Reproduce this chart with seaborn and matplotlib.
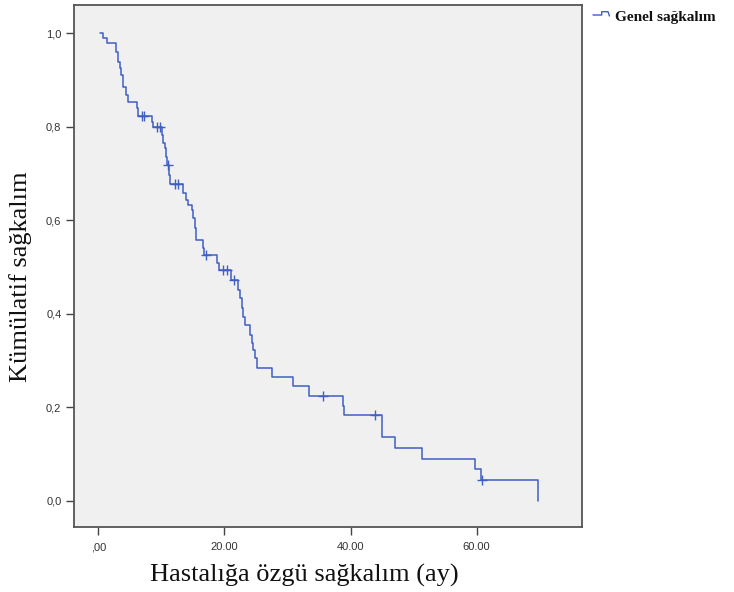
import numpy as np
import pandas as pd
import matplotlib
matplotlib.use("Agg")
import matplotlib.pyplot as plt
from matplotlib.lines import Line2D
import seaborn as sns

# Kaplan-Meier step points: time (months) at which the curve drops, and survival after the drop
step_times = [0.3, 0.82, 1.46, 2.8, 3.12, 3.44, 3.6, 3.9, 4.4, 4.75, 6.09, 6.34,
              8.46, 8.72, 10.05, 10.3, 10.57, 10.73, 10.97, 11.28, 11.44,
              13.42, 13.9, 14.26, 14.8, 15.06, 15.33, 15.48, 16.55, 16.83,
              18.9, 19.18, 21.0, 22.14, 22.46, 22.72, 22.98, 23.25,
              24.12, 24.31, 24.56, 24.83, 25.1, 27.48, 30.9, 33.44,
              38.73, 38.94, 44.91, 47.02, 51.35, 59.7, 60.76, 69.68]
survival = [1.0, 0.990, 0.979, 0.960, 0.939, 0.926, 0.911, 0.886, 0.868, 0.854, 0.840, 0.822,
            0.811, 0.799, 0.782, 0.765, 0.754, 0.736, 0.718, 0.697, 0.677,
            0.658, 0.643, 0.633, 0.622, 0.604, 0.583, 0.558, 0.540, 0.526,
            0.508, 0.494, 0.472, 0.451, 0.433, 0.412, 0.394, 0.376,
            0.355, 0.337, 0.323, 0.305, 0.283, 0.264, 0.245, 0.224,
            0.202, 0.184, 0.1365, 0.112, 0.089, 0.067, 0.044, 0.0]

# Censored observations (months)
censor_times = [6.88, 7.3, 9.25, 9.78, 11.1, 12.2, 12.7, 17.07, 19.8, 20.4, 21.5,
                35.66, 43.85, 60.85]

x_ticks = [0, 20, 40, 60]
x_tick_labels = [",00", "20.00", "40.00", "60.00"]
y_ticks = [0.0, 0.2, 0.4, 0.6, 0.8, 1.0]
y_tick_labels = ["0,0", "0,2", "0,4", "0,6", "0,8", "1,0"]

line_color = "#3f5fc4"

sns.set_style("white")
plt.rcParams["font.family"] = ["Liberation Sans", "DejaVu Sans"]

curve = pd.DataFrame({"time": step_times, "survival": survival})
# survival level at each censored time, read from the step function
idx = np.searchsorted(np.array(step_times), np.array(censor_times), side="right") - 1
censored = pd.DataFrame({"time": censor_times,
                         "survival": np.array(survival)[idx]})

fig = plt.figure(figsize=(7.34, 5.92), dpi=100)
fig.patch.set_facecolor("white")
ax = fig.add_axes([74 / 734, 1 - 527 / 592, 508 / 734, 522 / 592])
ax.set_facecolor("#f0f0f0")

sns.lineplot(data=curve, x="time", y="survival", ax=ax, color=line_color,
             linewidth=1.1, drawstyle="steps-post", estimator=None, sort=False)
sns.scatterplot(data=censored, x="time", y="survival", ax=ax, marker="+",
                s=45, color=line_color, linewidth=1.0, zorder=3)

ax.set_xlim(-3.85, 76.7)
ax.set_ylim(-0.0563, 1.0605)
ax.set_xticks(x_ticks)
ax.set_xticklabels(x_tick_labels)
ax.set_yticks(y_ticks)
ax.set_yticklabels(y_tick_labels)
ax.tick_params(axis="both", direction="out", length=6, width=1.0, color="#444444",
               labelsize=8, labelcolor="#333333", left=True, bottom=True, pad=3)
ax.tick_params(axis="x", pad=5)

for side in ["left", "right", "top", "bottom"]:
    ax.spines[side].set_visible(True)
    ax.spines[side].set_color("#555555")
    ax.spines[side].set_linewidth(1.3)

ax.set_xlabel("Hastalığa özgü sağkalım (ay)", family="Liberation Serif",
              fontsize=19, color="#111111")
ax.xaxis.set_label_coords(0.453, -0.105)
ax.xaxis.label.set_va("baseline")
ax.set_ylabel("Kümülatif sağkalım", family="Liberation Serif",
              fontsize=19, color="#111111")
ax.yaxis.set_label_coords(-0.106, 0.48)
ax.yaxis.label.set_va("center")

# legend entry outside the plot
W, H = 734, 592
gx = np.array([593, 601.7, 601.7, 608, 609.5]) / W
gy = 1 - np.array([15, 15, 11.7, 11.7, 16]) / H
fig.add_artist(Line2D(gx, gy, color=line_color, linewidth=1.0))
fig.text(615 / W, 1 - 21 / H, "Genel sağkalım", family="Liberation Serif",
         fontsize=11, fontweight="bold", color="#111111", va="baseline", ha="left")

fig.savefig("out.png", dpi=100, facecolor="white")
